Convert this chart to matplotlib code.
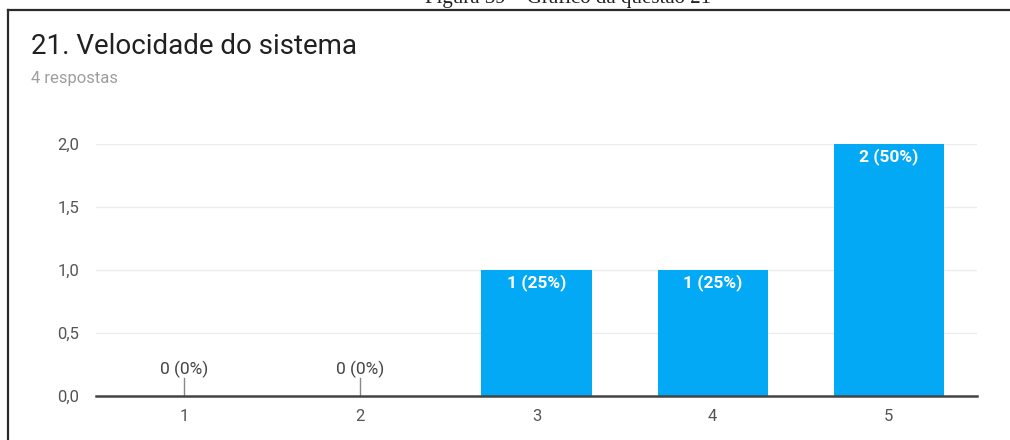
import matplotlib
matplotlib.use("Agg")
import matplotlib.pyplot as plt
from matplotlib.lines import Line2D

categories = ["1", "2", "3", "4", "5"]
counts = [0, 0, 1, 1, 2]
percents = [0, 0, 25, 25, 50]
yticks = [0.0, 0.5, 1.0, 1.5, 2.0]
ytick_labels = ["0,0", "0,5", "1,0", "1,5", "2,0"]
title = "21. Velocidade do sistema"
subtitle = "4 respostas"
caption = "Figura 39 – Gráfico da questão 21"

plt.rcParams['font.family'] = ['Roboto', 'DejaVu Sans']

W, H = 1010, 440
fig = plt.figure(figsize=(W / 100, H / 100), dpi=100)
fig.patch.set_facecolor("white")

# frame lines (top and left)
fig.add_artist(Line2D([8 / W, 1.0], [1 - 10 / H, 1 - 10 / H], color="#2b2b2b", lw=1.6))
fig.add_artist(Line2D([8 / W, 8 / W], [0, 1 - 10 / H], color="#2b2b2b", lw=1.6))

# caption of the page, mostly cut off at the top edge
fig.text(568 / W, 1 - 2.5 / H, caption, family="Liberation Serif", fontsize=15,
         ha="center", va="baseline", color="#222222")

fig.text(31 / W, 1 - 54 / H, title, fontsize=20, color="#212121", va="baseline", ha="left")
fig.text(31 / W, 1 - 83 / H, subtitle, fontsize=12, color="#9e9e9e", va="baseline", ha="left")

ax = fig.add_axes([96 / W, 44 / H, (977 - 96) / W, 252 / H])
x = list(range(len(categories)))
ax.bar(x, counts, width=0.625, color="#03a9f4", zorder=3)
ax.set_xlim(-0.5, len(categories) - 0.5)
ax.set_ylim(0, 2)
ax.set_yticks(yticks)
ax.set_yticklabels(ytick_labels)
ax.set_xticks(x)
ax.set_xticklabels(categories)
for s in ["top", "right", "left"]:
    ax.spines[s].set_visible(False)
ax.spines["bottom"].set_color("#444444")
ax.spines["bottom"].set_linewidth(1.8)
ax.spines["bottom"].set_zorder(4)
ax.tick_params(axis="both", length=0, labelsize=12, labelcolor="#555555")
ax.tick_params(axis="y", pad=12)
ax.tick_params(axis="x", pad=9)
ax.grid(axis="y", color="#ececec", lw=1, zorder=0)
ax.set_axisbelow(True)

for xi, c, p in zip(x, counts, percents):
    label = f"{c} ({p}%)"
    if c == 0:
        ax.plot([xi, xi], [0, 0.14], color="#888888", lw=1, zorder=2)
        ax.text(xi, 0.21, label, ha="center", va="center", fontsize=12.5, color="#444444")
    else:
        ax.text(xi, c - 0.1, label, ha="center", va="center", fontsize=12.5,
                color="white", fontweight="bold", zorder=5)

fig.savefig("out.png", dpi=100, facecolor="white")
